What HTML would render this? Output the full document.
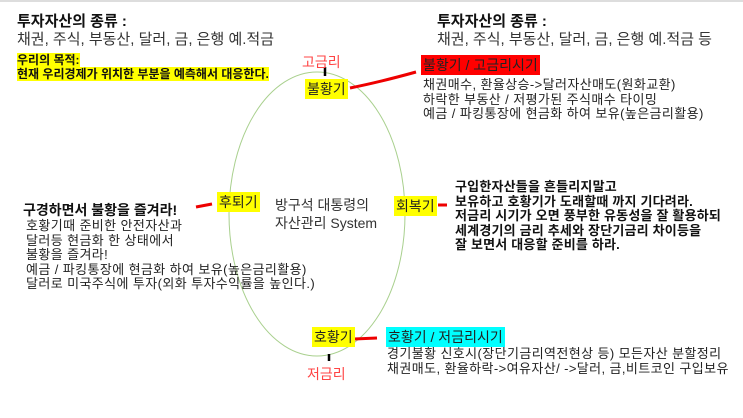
<!DOCTYPE html>
<html><head><meta charset="utf-8"><style>
body{margin:0;width:743px;height:418px;background:#fff;position:relative;overflow:hidden;font-family:"Liberation Sans","Noto Sans CJK KR",sans-serif;color:#222}
.a{position:absolute;white-space:nowrap}
.t{font-weight:bold;font-size:15px;color:#111}
.s{font-size:15px;color:#333}
.n{font-size:13px;line-height:14.5px;color:#222;letter-spacing:0.4px}
.y{background:#ffff00}
</style></head><body>
<div class="a" style="left:0;top:0;width:743px;height:2px;background:#ddd"></div>
<svg class="a" style="left:0;top:0" width="743" height="418">
<ellipse cx="317" cy="214" rx="88" ry="142" fill="none" stroke="#a9d08e" stroke-width="1"/>
<line x1="325" y1="67" x2="325" y2="76" stroke="#000" stroke-width="2.5"/>
<line x1="329" y1="354" x2="329" y2="361" stroke="#000" stroke-width="2.5"/>
<path d="M350 88 Q380 82 416 72" stroke="#e00" stroke-width="3" fill="none"/>
<path d="M196 207 L212 204" stroke="#e00" stroke-width="3" fill="none"/>
<path d="M438 205 L447 205" stroke="#e00" stroke-width="3" fill="none"/>
<path d="M354 339 L377 338" stroke="#e00" stroke-width="3" fill="none"/>
</svg>
<div class="a t" style="left:17px;top:10px">투자자산의 종류 :</div>
<div class="a s" style="left:17px;top:28px">채권, 주식, 부동산, 달러, 금, 은행 예.적금</div>
<div class="a" style="left:17px;top:53px;font-size:12px;font-weight:bold;line-height:14px;color:#111"><span class="y">우리의 목적:</span><br><span class="y">현재 우리경제가 위치한 부분을 예측해서 대응한다.</span></div>
<div class="a" style="left:302px;top:52px;font-size:14px;color:#f44">고금리</div>
<div class="a y" style="left:305px;top:79px;font-size:14px;padding:0 2px;color:#222">불황기</div>
<div class="a t" style="left:437px;top:10px">투자자산의 종류 :</div>
<div class="a s" style="left:437px;top:28px">채권, 주식, 부동산, 달러, 금, 은행 예.적금 등</div>
<div class="a" style="left:421px;top:55px;background:#ff0000;font-size:14px;padding:0 2px;color:#222">불황기 / 고금리시기</div>
<div class="a n" style="left:423px;top:78px"> 채권매수, 환율상승-&gt;달러자산매도(원화교환)<br>하락한 부동산 / 저평가된 주식매수 타이밍<br>예금 / 파킹통장에 현금화 하여 보유(높은금리활용)</div>
<div class="a" style="left:23px;top:200px;font-size:14px;font-weight:bold;color:#111">구경하면서 불황을 즐겨라!</div>
<div class="a n" style="left:26px;top:219px">호황기때 준비한 안전자산과<br>달러등 현금화 한 상태에서<br>불황을 즐겨라!<br>예금 / 파킹통장에 현금화 하여 보유(높은금리활용)<br>달러로 미국주식에 투자(외화 투자수익률을 높인다.)</div>
<div class="a y" style="left:217px;top:192px;font-size:14px;padding:0 2px">후퇴기</div>
<div class="a" style="left:275px;top:196px;font-size:14px;line-height:18px;color:#333">방구석 대통령의<br>자산관리 System</div>
<div class="a y" style="left:394px;top:196px;font-size:14px;padding:0 2px">회복기</div>
<div class="a n" style="left:455px;top:180px;font-weight:bold;color:#111;letter-spacing:0.2px">구입한자산들을 흔들리지말고<br>보유하고 호황기가 도래할때 까지 기다려라.<br>저금리 시기가 오면 풍부한 유동성을 잘 활용하되<br>세계경기의 금리 추세와 장단기금리 차이등을<br>잘 보면서 대응할 준비를 하라.</div>
<div class="a y" style="left:312px;top:327px;font-size:14px;padding:0 2px">호황기</div>
<div class="a" style="left:386px;top:327px;background:#00ffff;font-size:14px;padding:0 2px">호황기 / 저금리시기</div>
<div class="a n" style="left:387px;top:347px">경기불황 신호시(장단기금리역전현상 등) 모든자산 분할정리<br>채권매도, 환율하락-&gt;여유자산/ -&gt;달러, 금,비트코인 구입보유</div>
<div class="a" style="left:307px;top:364px;font-size:14px;color:#f44">저금리</div>
</body></html>
